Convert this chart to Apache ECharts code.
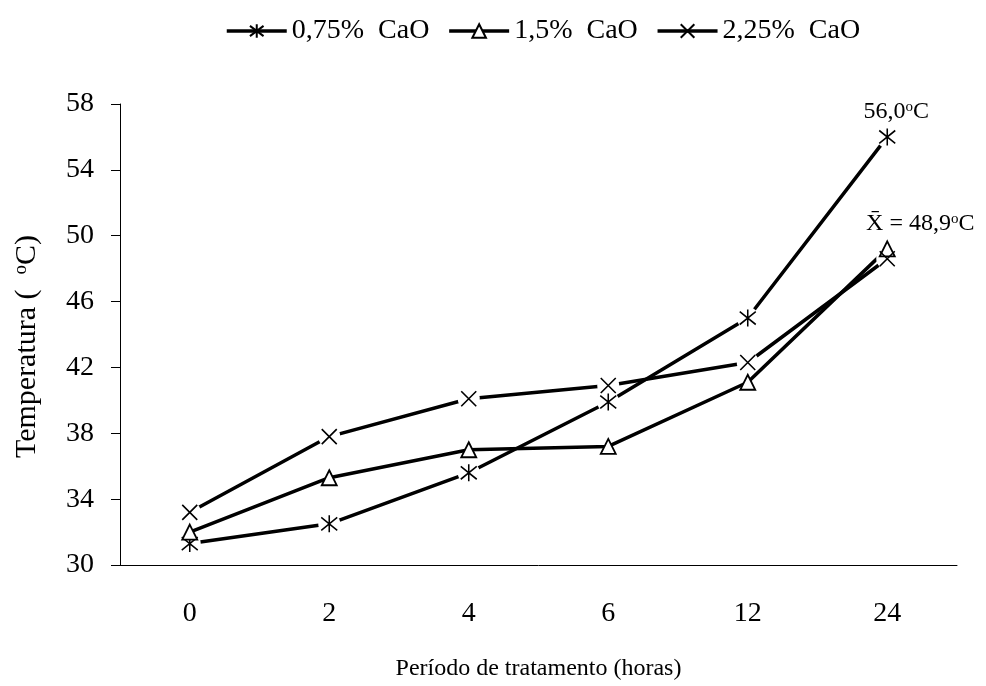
<!DOCTYPE html>
<html>
<head>
<meta charset="utf-8">
<script src="https://cdn.jsdelivr.net/npm/echarts@6/dist/echarts.min.js"></script>
<style>
  html, body { margin: 0; padding: 0; background: #fff; }
  #chart { width: 986px; height: 686px; }
</style>
</head>
<body>
<div id="chart"></div>
<script>
// Treatment period (hours) and temperature (°C) per CaO dose
const periods = ['0', '2', '4', '6', '12', '24'];
const cao075 = [31.3, 32.5, 35.6, 39.9, 45.0, 56.0];
const cao150 = [32.0, 35.3, 37.0, 37.2, 41.1, 49.2];
const cao225 = [33.2, 37.8, 40.1, 40.9, 42.3, 48.6];
const seriesNames = ['0,75%  CaO', '1,5%  CaO', '2,25%  CaO'];
const yMin = 30, yMax = 58, yStep = 4;

const FONT = 'Liberation Serif';
const STAR = 'path://M5,0L5,10M0,1.2L10,8.8M0,8.8L10,1.2';
const CROSS = 'path://M0,0L10,10M0,10L10,0';

const fmt = v => v.toFixed(1).replace('.', ',');
const last = periods.length - 1;
const mean24 = (cao150[last] + cao225[last]) / 2;

const supRich = {
  sup: { fontFamily: FONT, fontSize: 15, color: '#000', verticalAlign: 'top', lineHeight: 24, padding: [0, 0, 9, 0] },
  txt: { fontFamily: FONT, fontSize: 24, color: '#000', lineHeight: 24 }
};

function withLabel(arr, idx, label) {
  return arr.map((v, i) => i === idx ? { value: v, label: label } : v);
}

const styles = [
  { symbol: STAR, size: [16, 17], item: { color: '#000', borderColor: '#000', borderWidth: 1.6, opacity: 1 } },
  { symbol: 'triangle', size: [15, 15], item: { color: '#fff', borderColor: '#000', borderWidth: 1.8, opacity: 1 } },
  { symbol: CROSS, size: [15, 15], item: { color: '#000', borderColor: '#000', borderWidth: 1.6, opacity: 1 } }
];
const values = [cao075, cao150, cao225];

// Connecting lines (legend entries come from these)
const lineSeries = values.map((vals, k) => ({
  type: 'line',
  name: seriesNames[k],
  data: vals,
  showSymbol: false,
  symbol: styles[k].symbol,
  symbolSize: styles[k].size,
  itemStyle: styles[k].item,
  lineStyle: { color: '#000', width: 3.5 },
  emphasis: { disabled: true },
  silent: true,
  animation: false,
  z: 2
}));

// White clearing behind the asterisk and cross markers
const haloSeries = [0, 2].map(k => ({
  type: 'scatter',
  name: 'clear-' + k,
  data: values[k],
  symbol: 'circle',
  symbolSize: 22,
  itemStyle: { color: '#fff', opacity: 1 },
  emphasis: { disabled: true },
  silent: true,
  animation: false,
  z: 3
}));

const labels = {
  0: {
    show: true,
    position: 'top',
    distance: 4,
    offset: [9, 0],
    formatter: p => '{txt|' + fmt(Array.isArray(p.value) ? p.value[1] : p.value) + '}{sup|o}{txt|C}',
    rich: supRich
  },
  1: {
    show: true,
    position: 'top',
    distance: 5,
    offset: [33, 0],
    formatter: () => '{txt|X\u0304 = ' + fmt(mean24) + '}{sup|o}{txt|C}',
    rich: supRich
  }
};

// Point markers
const markerSeries = [0, 1, 2].map(k => ({
  type: 'scatter',
  name: 'marker-' + k,
  data: labels[k] ? withLabel(values[k], last, labels[k]) : values[k],
  symbol: styles[k].symbol,
  symbolSize: styles[k].size,
  itemStyle: styles[k].item,
  emphasis: { disabled: true },
  silent: true,
  animation: false,
  z: 4
}));

const chart = echarts.init(document.getElementById('chart'));
chart.setOption({
  backgroundColor: '#fff',
  textStyle: { fontFamily: FONT, color: '#000' },
  legend: {
    top: 12,
    left: 220,
    itemWidth: 60,
    itemHeight: 17,
    itemGap: 18,
    lineStyle: { color: '#000', width: 3.5 },
    itemStyle: { opacity: 1 },
    textStyle: { fontFamily: FONT, fontSize: 28, color: '#000' },
    data: seriesNames
  },
  grid: { left: 120, right: 29, top: 104, bottom: 119 },
  xAxis: {
    type: 'category',
    data: periods,
    boundaryGap: true,
    name: 'Período de tratamento (horas)',
    nameLocation: 'middle',
    nameGap: 92,
    nameTextStyle: { fontFamily: FONT, fontSize: 24, color: '#000' },
    axisLine: { lineStyle: { color: '#000', width: 1 } },
    axisTick: { length: 10, lineStyle: { color: '#000' } },
    axisLabel: { fontFamily: FONT, fontSize: 28, color: '#000', margin: 35 },
    splitLine: { show: false }
  },
  yAxis: {
    type: 'value',
    min: yMin,
    max: yMax,
    interval: yStep,
    name: 'Temperatura (  {sup|o}C)',
    nameLocation: 'middle',
    nameGap: 78,
    nameRotate: 90,
    nameTextStyle: {
      fontFamily: FONT, fontSize: 30, color: '#000',
      padding: [0, 24, 0, 0],
      rich: {
        sup: { fontFamily: FONT, fontSize: 19, color: '#000', verticalAlign: 'top', padding: [0, 0, 11, 0] }
      }
    },
    axisLine: { show: true, lineStyle: { color: '#000', width: 1 } },
    axisTick: { show: true, length: 9, lineStyle: { color: '#000' } },
    axisLabel: { fontFamily: FONT, fontSize: 28, color: '#000', margin: 26 },
    splitLine: { show: false }
  },
  series: lineSeries.concat(haloSeries, markerSeries)
});
</script>
</body>
</html>
